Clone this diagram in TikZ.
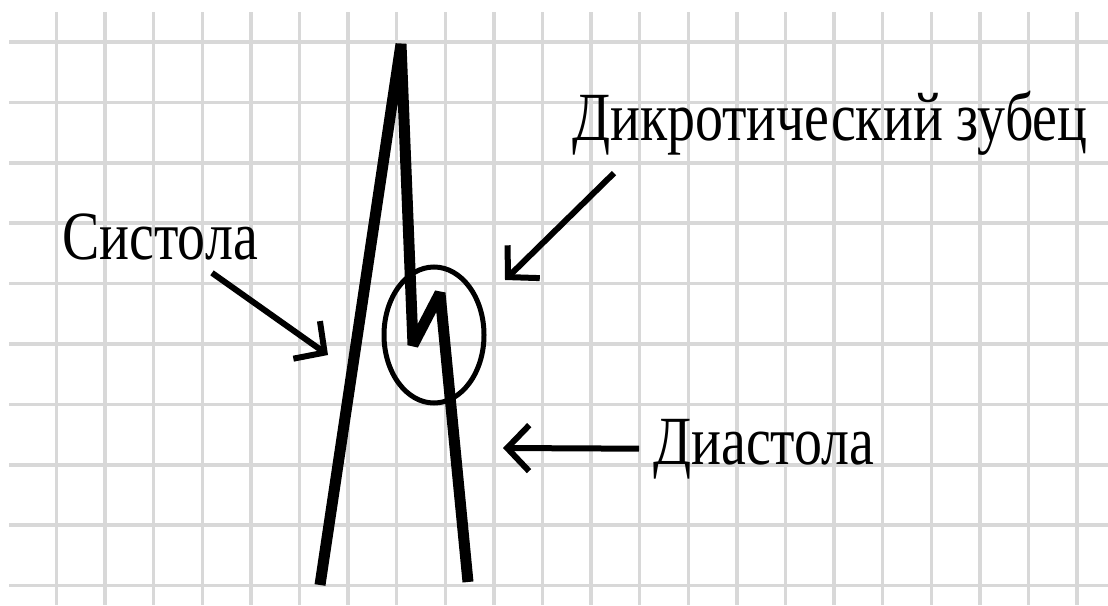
\documentclass[tikz,border=0pt]{standalone}
\usepackage{fontspec}
\newfontfamily\labelfont[FakeStretch=0.81]{Liberation Serif}
\usepackage{tikz}
\usetikzlibrary{arrows.meta,positioning}
\usepackage{xcolor}
\definecolor{gridgray}{RGB}{216,216,216}

\begin{document}
\begin{tikzpicture}[x=1pt,y=-1pt,
  gridline/.style={draw=gridgray, line width=3.5pt},
  pulse/.style={line width=11pt, line join=bevel},
  pointer/.style={line width=6pt, -{Straight Barb[length=22pt,width=46pt]}},
  lbl/.style={font=\labelfont\fontsize{69}{80}\selectfont, inner sep=0pt, anchor=base west}]
\useasboundingbox (0,0) rectangle (1108,605);
\foreach \i in {0,...,21} \draw[gridline] ({56.5+48.6*\i},12) -- ({56.5+48.6*\i},605);
\foreach \j in {0,...,9} \draw[gridline] (9,{42+60.4*\j}) -- (1108,{42+60.4*\j});

\draw[pulse] (320,585) -- (401,44) -- (413,345) -- (440,293) -- (468,582);
\draw[line width=5pt] (434,335) ellipse [x radius=50pt, y radius=68pt];

\node[lbl] (sys) at (62,259) {Систола};
\node[lbl] (dik) at (572,140) {Дикротический зубец};
\node[lbl] (dia) at (653,464) {Диастола};

\coordinate (sysTip) at (328,355);
\coordinate (dikTip) at (505,280);
\coordinate (diaTip) at (503,448);
\draw[pointer] ([xshift=-46pt,yshift=-13pt]sys.south east) -- (sysTip);
\draw[pointer] ([xshift=42pt,yshift=-18pt]dik.south west) -- (dikTip);
\draw[pointer, shorten <=14pt] (dia.west) -- (diaTip);
\end{tikzpicture}
\end{document}
